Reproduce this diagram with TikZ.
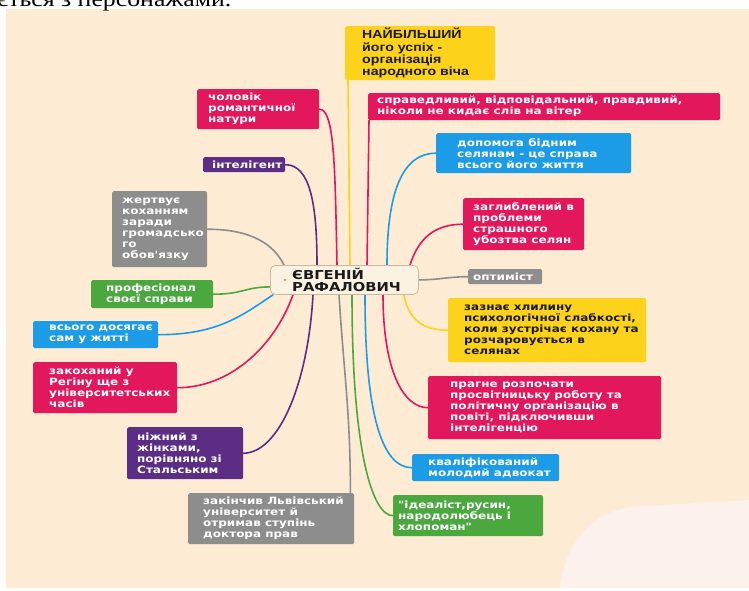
\documentclass[tikz,border=0pt]{standalone}
\usepackage{fontspec}
\usetikzlibrary{backgrounds}
\newfontfamily\mapfont[FakeStretch=1.2]{DejaVu Sans}
\newfontfamily\capfont[FakeStretch=1.2]{Liberation Sans}
\newfontfamily\pagefont[FakeStretch=1.2]{Liberation Serif}

\definecolor{panel}{HTML}{FDEBD3}
\definecolor{haze}{HTML}{FDF1EE}
\definecolor{hubfill}{HTML}{FCF2E2}
\definecolor{hubline}{HTML}{CBB89F}
\definecolor{mapred}{HTML}{E2175C}
\definecolor{mapyellow}{HTML}{FDD21B}
\definecolor{mapblue}{HTML}{1C9CE6}
\definecolor{mapgray}{HTML}{8D8D8D}
\definecolor{mapgreen}{HTML}{4BA83E}
\definecolor{mappurple}{HTML}{5C2D84}
\definecolor{ink}{HTML}{1A1A1A}

\tikzset{
  box/.style={fill=#1, rounded corners=1.5pt, anchor=north west, inner sep=0pt},
  txt/.style={anchor=west, align=left, inner sep=0pt, text=white,
    font=\mapfont\bfseries\fontsize{10}{11}\selectfont},
  link/.style={draw=#1, line width=1.6pt, line cap=round},
}

\begin{document}
\begin{tikzpicture}[x=1pt,y=-1pt]
\useasboundingbox (0,0) rectangle (749,590);

	% page and screenshot behind the map
	\begin{scope}[on background layer]
	\fill[white] (0,0) rectangle (749,590);
	\fill[panel] (6,9) rectangle (749,588);
	\fill[haze] (560,588) .. controls (566,535) and (600,506) .. (645,506) -- (749,500) -- (749,588) -- cycle;
	\end{scope}
	\node[anchor=base west, inner sep=0pt, font=\pagefont\fontsize{21.5}{22}\selectfont] (pageline) at (-3,6) {ється з персонажами.};

	% centre
	\node[draw=hubline, fill=hubfill, line width=0.8pt, rounded corners=5pt, anchor=north west, minimum width=148pt, minimum height=29pt, inner sep=0pt] (hub) at (270,265) {};
	\node[txt, text=ink, font=\mapfont\bfseries\fontsize{12.3}{12}\selectfont] (hub-t) at ([xshift=22pt]hub.west) {ЄВГЕНІЙ\\РАФАЛОВИЧ};
	\node[circle, fill=orange, inner sep=0pt, minimum size=2.5pt] (hub-dot) at ([xshift=15pt]hub.west) {};

	% right branch
	\node[box=mapyellow, minimum width=150pt, minimum height=54pt] (feat) at (345,26) {};
	\node[txt, text=ink, font=\capfont\bfseries\fontsize{11.8}{12.3}\selectfont] (feat-t) at ([xshift=17pt]feat.west) {НАЙБІЛЬШИЙ\\його успіх -\\організація\\народного віча};

	\node[box=mapred, minimum width=352pt, minimum height=27pt] (fair) at (368,93) {};
	\node[txt] (fair-t) at ([xshift=9pt]fair.west) {справедливий, відповідальний, правдивий,\\ніколи не кидає слів на вітер};

	\node[box=mapblue, minimum width=195pt, minimum height=40pt] (help) at (436,133) {};
	\node[txt] (help-t) at ([xshift=21pt]help.west) {допомога бідним\\селянам - це справа\\всього його життя};

	\node[box=mapred, minimum width=121pt, minimum height=52pt] (deep) at (463,198) {};
	\node[txt] (deep-t) at ([xshift=10pt]deep.west) {заглиблений в\\проблеми\\страшного\\убозтва селян};

	\node[box=mapgray, minimum width=74pt, minimum height=15pt] (optim) at (468,269) {};
	\node[txt] (optim-t) at ([xshift=5pt]optim.west) {оптиміст};

	\node[box=mapyellow, minimum width=198pt, minimum height=64pt] (weak) at (448,298) {};
	\node[txt, text=ink] (weak-t) at ([xshift=16pt]weak.west) {зазнає хлилину\\психологічної слабкості,\\коли зустрічає кохану та\\розчаровується в\\селянах};

	\node[box=mapred, minimum width=233pt, minimum height=63pt] (aim) at (428,376) {};
	\node[txt] (aim-t) at ([xshift=22pt]aim.west) {прагне розпочати\\просвітницьку роботу та\\політичну організацію в\\повіті, підключивши\\інтелігенцію};

	\node[box=mapblue, minimum width=147pt, minimum height=27pt] (lawyer) at (412,454) {};
	\node[txt] (lawyer-t) at ([xshift=16pt]lawyer.west) {кваліфікований\\молодий адвокат};

	\node[box=mapgreen, minimum width=150pt, minimum height=41pt] (ideal) at (393,495) {};
	\node[txt] (ideal-t) at ([xshift=5pt]ideal.west) {"ідеаліст,русин,\\народолюбець і\\хлопоман"};

	% left branch
	\node[box=mapred, minimum width=122pt, minimum height=40pt] (romantic) at (197,89) {};
	\node[txt] (romantic-t) at ([xshift=11pt]romantic.west) {чоловік\\романтичної\\натури};

	\node[box=mappurple, minimum width=82pt, minimum height=15pt] (intel) at (203,157) {};
	\node[txt] (intel-t) at ([xshift=9pt]intel.west) {інтелігент};

	\node[box=mapgray, minimum width=95pt, minimum height=76pt] (sacrifice) at (112,191) {};
	\node[txt] (sacrifice-t) at ([xshift=10pt]sacrifice.west) {жертвує\\коханням\\заради\\громадсько\\го\\обов'язку};

	\node[box=mapgreen, minimum width=122pt, minimum height=28pt] (pro) at (91,280) {};
	\node[txt] (pro-t) at ([xshift=15pt]pro.west) {професіонал\\своєї справи};

	\node[box=mapblue, minimum width=125pt, minimum height=27pt] (self) at (33,321) {};
	\node[txt] (self-t) at ([xshift=16pt]self.west) {всього досягає\\сам у житті};

	\node[box=mapred, minimum width=144pt, minimum height=51pt] (love) at (33,362) {};
	\node[txt] (love-t) at ([xshift=16pt]love.west) {закоханий у\\Регіну ще з\\університетських\\часів};

	\node[box=mappurple, minimum width=116pt, minimum height=52pt] (tender) at (127,427) {};
	\node[txt] (tender-t) at ([xshift=10pt]tender.west) {ніжний з\\жінками,\\порівняно зі\\Стальським};

	\node[box=mapgray, minimum width=166pt, minimum height=51pt] (grad) at (188,493) {};
	\node[txt] (grad-t) at ([xshift=15pt]grad.west) {закінчив Львівський\\університет й\\отримав ступінь\\доктора прав};

	% links
	\begin{scope}[on background layer]
	\draw[link=mapgray] ([xshift=14pt]hub.north west) .. controls +(-10,-20) and +(45,0) .. (sacrifice.east);
	\draw[link=mappurple] ([xshift=47pt]hub.north west) .. controls +(0,-60) and +(25,0) .. (intel.east);
	\draw[link=mapred] ([xshift=67pt]hub.north west) .. controls +(-2,-100) and +(15,0) .. (romantic.east);
	\draw[link=mapyellow] ([xshift=80pt]hub.north west) -- ([xshift=3pt]feat.south west);
	\draw[link=mapred] ([xshift=97pt]hub.north west) -- ([xshift=1pt]fair.south west);
	\draw[link=mapblue] ([xshift=117pt]hub.north west) .. controls +(0,-70) and +(-35,0) .. (help.west);
	\draw[link=mapred] ([xshift=140pt]hub.north west) .. controls +(8,-25) and +(-30,0) .. (deep.west);
	\draw[link=mapgray] (hub.east) .. controls +(20,0) and +(-20,0) .. (optim.west);
	\draw[link=mapyellow] ([xshift=-15pt]hub.south east) .. controls +(5,25) and +(-25,0) .. (weak.west);
	\draw[link=mapred] ([xshift=113pt]hub.south west) .. controls +(0,75) and +(-25,0) .. (aim.west);
	\draw[link=mapblue] ([xshift=95pt]hub.south west) .. controls +(0,120) and +(-30,0) .. (lawyer.west);
	\draw[link=mapgreen] ([xshift=82pt]hub.south west) .. controls +(0,160) and +(-20,0) .. (ideal.west);
	\draw[link=mapgray] ([xshift=69pt]hub.south west) .. controls +(5,80) and +(0,-80) .. ([xshift=-4pt]grad.north east);
	\draw[link=mappurple] ([xshift=43pt]hub.south west) .. controls +(-5,90) and +(35,0) .. (tender.east);
	\draw[link=mapred] ([xshift=23pt]hub.south west) .. controls +(-20,55) and +(50,0) .. (love.east);
	\draw[link=mapblue] ([xshift=3pt]hub.south west) .. controls +(-30,20) and +(60,0) .. (self.east);
	\draw[link=mapgreen] ([yshift=-7pt]hub.west) .. controls +(-25,0) and +(30,0) .. (pro.east);
	\end{scope}

\end{tikzpicture}
\end{document}
